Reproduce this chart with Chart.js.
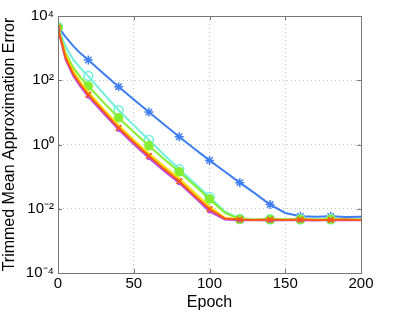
<!DOCTYPE html>
<html lang="en">
<head>
  <meta charset="UTF-8" />
  <title>Trimmed Mean Approximation Error</title>
  <script src="https://cdn.jsdelivr.net/npm/chart.js"></script>
  <style>
    body { margin: 0; padding: 0; background: #fff; }
    #wrap { width: 402px; height: 312px; }
  </style>
</head>
<body>
  <div id="wrap"><canvas id="errChart" width="402" height="312"></canvas></div>

  <script>
    const epochs = [0, 5, 10, 15, 20, 30, 40, 50, 60, 70, 80, 90, 100, 110, 120, 130, 140, 150, 160, 170, 180, 190, 200];

    const blueErr   = [4570, 2240, 1175, 676, 427, 162, 63, 25, 10.2, 4.2, 1.74, 0.74, 0.32, 0.145, 0.065, 0.030, 0.0135, 0.0074, 0.0058, 0.0056, 0.0058, 0.0055, 0.0056];
    const cyanErr   = [4570, 1120, 447, 234, 135, 39, 11.7, 4.0, 1.38, 0.48, 0.17, 0.063, 0.0234, 0.0083, 0.0048, 0.0046, 0.0047, 0.0046, 0.0047, 0.0046, 0.0047, 0.0046, 0.0046];
    const greenErr  = [4365, 708, 251, 120, 66, 20.4, 6.8, 2.45, 0.91, 0.355, 0.141, 0.054, 0.020, 0.0076, 0.0047, 0.0046, 0.0046, 0.0047, 0.0046, 0.0046, 0.0047, 0.0046, 0.0046];
    const yellowErr = [4266, 603, 190, 85, 43, 12.6, 4.0, 1.38, 0.52, 0.21, 0.087, 0.032, 0.0117, 0.0052, 0.0047, 0.0045, 0.0046, 0.0045, 0.0046, 0.0045, 0.0046, 0.0045, 0.0045];
    const orangeErr = [4170, 500, 158, 71, 35.5, 10.7, 3.3, 1.17, 0.44, 0.174, 0.072, 0.026, 0.0098, 0.0050, 0.0046, 0.0045, 0.0046, 0.0045, 0.0046, 0.0045, 0.0045, 0.0046, 0.0045];
    const purpleErr = [3980, 436, 138, 62, 31, 9.3, 2.9, 1.02, 0.38, 0.151, 0.063, 0.023, 0.0083, 0.0046, 0.0044, 0.0045, 0.0043, 0.0045, 0.0044, 0.0043, 0.0045, 0.0044, 0.0044];

    const xTicks = [0, 50, 100, 150, 200];
    const yTicks = [1e-4, 1e-2, 1, 1e2, 1e4];
    const yTickLabels = ['10⁻⁴', '10⁻²', '10⁰', '10²', '10⁴'];

    // markers every 20 epochs like the matlab plot
    const markerAt = epochs.map(e => (e % 20 === 0 && e < 200));

    function pts(vals) {
      return epochs.map((e, i) => ({ x: e, y: vals[i] }));
    }

    function series(label, vals, color, style, r, filled) {
      return {
        label: label,
        data: pts(vals),
        borderColor: color,
        backgroundColor: filled ? color : 'rgba(0,0,0,0)',
        pointBorderColor: color,
        pointBackgroundColor: filled ? color : 'rgba(0,0,0,0)',
        borderWidth: 2,
        pointBorderWidth: 1.5,
        pointStyle: style,
        pointRadius: markerAt.map(m => m ? r : 0),
        tension: 0,
        fill: false
      };
    }

    // closed box round the plot area + small inward tick marks
    const boxPlugin = {
      id: 'box',
      afterDraw(chart) {
        const a = chart.chartArea, ctx = chart.ctx;
        const xs = chart.scales.x, ys = chart.scales.y;
        ctx.save();
        ctx.strokeStyle = '#777';
        ctx.lineWidth = 1;
        ctx.strokeRect(a.left + 0.5, a.top + 0.5, a.right - a.left, a.bottom - a.top);
        ctx.beginPath();
        xTicks.forEach(v => {
          const px = Math.round(xs.getPixelForValue(v)) + 0.5;
          ctx.moveTo(px, a.bottom); ctx.lineTo(px, a.bottom - 4);
          ctx.moveTo(px, a.top); ctx.lineTo(px, a.top + 4);
        });
        yTicks.forEach(v => {
          const py = Math.round(ys.getPixelForValue(v)) + 0.5;
          ctx.moveTo(a.left, py); ctx.lineTo(a.left + 4, py);
          ctx.moveTo(a.right, py); ctx.lineTo(a.right - 4, py);
        });
        ctx.stroke();
        ctx.restore();
      }
    };

    new Chart(document.getElementById('errChart').getContext('2d'), {
      type: 'line',
      data: {
        datasets: [
          series('orange', orangeErr, '#ff5a10', 'crossRot', 4, false),
          series('purple', purpleErr, '#b44af0', 'circle', 1.5, true),
          series('yellow', yellowErr, '#f2e000', 'circle', 0, false),
          series('green', greenErr, '#86ee30', 'circle', 4, true),
          series('cyan', cyanErr, '#6ff0dc', 'circle', 4.5, false),
          series('blue', blueErr, '#3e7ef2', 'star', 4.5, false)
        ]
      },
      options: {
        responsive: false,
        animation: false,
        layout: { padding: { top: 16, right: 41, left: 0, bottom: 0 } },
        plugins: { legend: { display: false }, tooltip: { enabled: false } },
        scales: {
          x: {
            type: 'linear',
            min: 0,
            max: 200,
            afterBuildTicks: s => { s.ticks = xTicks.map(v => ({ value: v })); },
            afterFit: s => { s.height = 39; },
            ticks: { color: '#000', font: { family: 'Liberation Sans', size: 15 }, padding: 2, maxRotation: 0 },
            grid: { color: '#c4c4c4', drawTicks: false },
            border: { color: '#777', dash: [1, 3] },
            title: { display: true, text: 'Epoch', color: '#000', font: { family: 'Liberation Sans', size: 16 }, padding: { top: -2, bottom: 0 } }
          },
          y: {
            type: 'logarithmic',
            min: 1e-4,
            max: 1e4,
            afterBuildTicks: s => { s.ticks = yTicks.map(v => ({ value: v })); },
            afterFit: s => { s.width = 58; },
            ticks: {
              color: '#000',
              font: { family: 'Liberation Sans', size: 15 },
              padding: 4,
              callback: v => yTickLabels[yTicks.indexOf(v)] || ''
            },
            grid: { color: '#c4c4c4', drawTicks: false },
            border: { color: '#777', dash: [1, 3] },
            title: { display: true, text: 'Trimmed Mean Approximation Error', color: '#000', font: { family: 'Liberation Sans', size: 16 }, padding: { top: 0, bottom: 0 } }
          }
        }
      },
      plugins: [boxPlugin]
    });
  </script>
</body>
</html>
